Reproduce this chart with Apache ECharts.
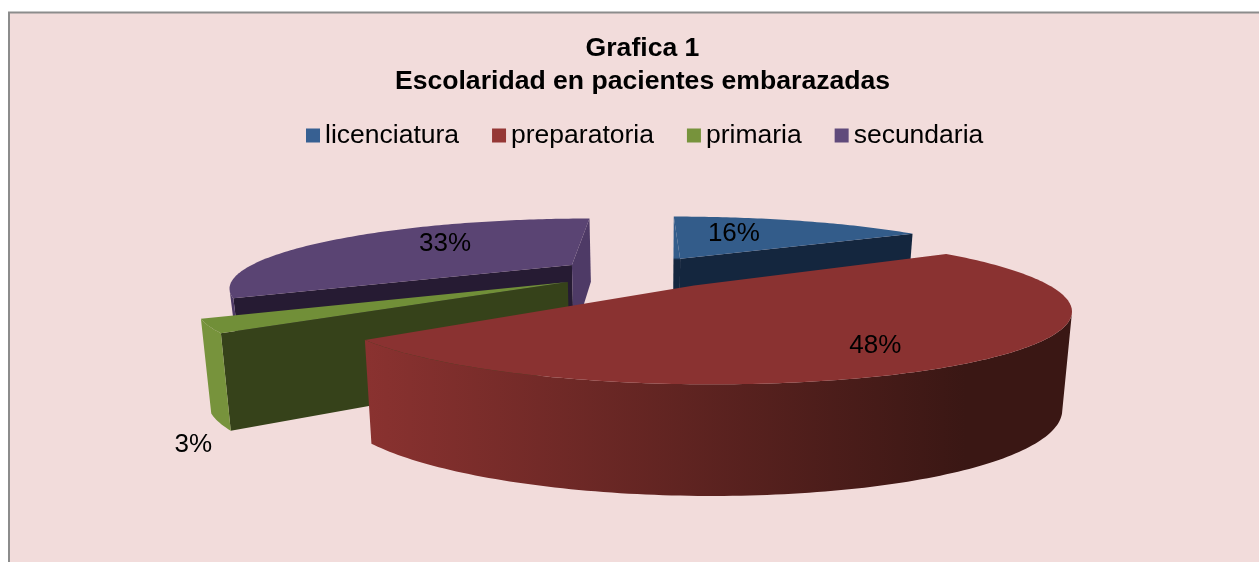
<!DOCTYPE html>
<html>
<head>
<meta charset="utf-8">
<style>
  html, body { margin: 0; padding: 0; background: #fff; }
  #chart { width: 1259px; height: 562px; }
</style>
<script src="https://cdn.jsdelivr.net/npm/echarts@6/dist/echarts.min.js"></script>
</head>
<body>
<div id="chart"></div>
<script>
const categories = ['licenciatura', 'preparatoria', 'primaria', 'secundaria'];
const percentValues = [16, 48, 3, 33];
const legendColors = ['#376092', '#953735', '#77933c', '#604a7b'];

// look of each slice: explosion offset (in radii), radius/height tweaks, face colours, label placement
const sliceLook = [
    { dx: 0.097, dy: 0.22, kx: 1.03, ky: 0.95, hk: 1, z: 2, top: '#335c8a', endFace: '#14263e', arc: ['#14263e', '#14263e'], labelR: 0.5, nudge: [-12, -4], labelLow: false },
    { dx: 0.125, dy: -0.2, kx: 1.01, ky: 0.95, hk: 1.05, z: 4, top: '#8a3231', startFace: '#5a2422', endFace: '#5a2422', arc: ['#8a3230', '#3a1714'], labelR: 0.72, nudge: [-11, 12], labelLow: false },
    { dx: -0.237, dy: -0.15, kx: 1, ky: 0.93, hk: 1, z: 3, top: '#718f38', startFace: '#36421a', endFace: '#36421a', arc: ['#77933c', '#77933c'], labelR: 1.12, nudge: [26, 15], labelLow: true },
    { dx: -0.244, dy: 0.115, kx: 1, ky: 1, hk: 0.85, z: 1, top: '#5a4473', startFace: '#261b33', endFace: '#4e3a66', arc: ['#4e3a66', '#4e3a66'], labelR: 0.5, nudge: [-4, -7], labelLow: false }
];

// pie camera
const cam = { cx: 650, cy: 272, rx: 331, ry: 64, persp: 0.3, height: 86, baseScale: 0.977 };

function project(look, x, y, low) {
    const X = look.dx + x * look.kx;
    const Y = look.dy + y * look.ky;
    const s = 1 / (1 + cam.persp * Y);
    let px = cam.cx + cam.rx * X * s;
    let py = cam.cy - cam.ry * Y * s;
    if (low) {
        px = cam.cx + (px - cam.cx) * cam.baseScale;
        py += cam.height * look.hk * Math.sqrt(s);
    }
    return [px, py];
}

function rim(look, deg, low, r) {
    const a = deg * Math.PI / 180;
    const k = r === undefined ? 1 : r;
    return project(look, Math.sin(a) * k, Math.cos(a) * k, low);
}

function facesViewer(pts) {
    let area = 0;
    for (let i = 0; i < pts.length; i++) {
        const p = pts[i], q = pts[(i + 1) % pts.length];
        area += p[0] * q[1] - q[0] * p[1];
    }
    return area < 0;
}

function poly(points, fill) {
    return { type: 'polygon', shape: { points: points }, style: { fill: fill, stroke: null } };
}

const total = percentValues.reduce((a, b) => a + b, 0);

function makeRender(idx) {
    const look = sliceLook[idx];
    let before = 0;
    for (let i = 0; i < idx; i++) { before += percentValues[i]; }

    return function (params, api) {
        const value = api.value(0);
        const a0 = before / total * 360;
        const a1 = (before + value) / total * 360;
        const children = [];

        // cut faces
        const apexT = project(look, 0, 0, false), apexB = project(look, 0, 0, true);
        const startQuad = [apexT, rim(look, a0, false), rim(look, a0, true), apexB];
        const endQuad = [rim(look, a1, false), apexT, apexB, rim(look, a1, true)];
        // the sliver left of the blue slice is lit above the apex and dark below it
        const startFill = look.startFace || new echarts.graphic.LinearGradient(0, apexT[1] - 1, 0, apexT[1] + 1, [
            { offset: 0, color: look.top }, { offset: 1, color: look.endFace }
        ], true);
        if (facesViewer(startQuad)) { children.push(poly(startQuad, startFill)); }
        if (facesViewer(endQuad)) { children.push(poly(endQuad, look.endFace)); }

        // outer wall: keep the stretch of the arc that faces the viewer
        const step = 1;
        const upper = [], lower = [];
        for (let a = a0; a < a1; a += step) {
            const b = Math.min(a + step, a1);
            const quad = [rim(look, a, false), rim(look, b, false), rim(look, b, true), rim(look, a, true)];
            if (!facesViewer(quad)) { continue; }
            if (!upper.length) { upper.push(quad[0]); lower.push(quad[3]); }
            upper.push(quad[1]);
            lower.push(quad[2]);
        }
        if (upper.length) {
            const wallFill = new echarts.graphic.LinearGradient(365, 0, 965, 0, [
                { offset: 0, color: look.arc[0] }, { offset: 1, color: look.arc[1] }
            ], true);
            children.push(poly(upper.concat(lower.reverse()), wallFill));
        }

        // top face
        const top = [apexT];
        for (let a = a0; a < a1; a += step) { top.push(rim(look, a, false)); }
        top.push(rim(look, a1, false));
        children.push(poly(top, look.top));

        // percentage label
        const pos = rim(look, (a0 + a1) / 2, look.labelLow, look.labelR);
        children.push({
            type: 'text',
            x: pos[0] + look.nudge[0],
            y: pos[1] + look.nudge[1],
            style: {
                text: Math.round(value / total * 100) + '%',
                font: '26px "Liberation Sans", Arial, sans-serif',
                fill: '#000',
                align: 'center',
                verticalAlign: 'middle'
            }
        });
        return { type: 'group', children: children };
    };
}

const series = categories.map((name, i) => ({
    type: 'custom',
    name: name,
    coordinateSystem: 'none',
    z: sliceLook[i].z + 2,
    silent: true,
    itemStyle: { color: legendColors[i] },
    renderItem: makeRender(i),
    data: [[percentValues[i]]]
}));

const chart = echarts.init(document.getElementById('chart'), null, { renderer: 'canvas' });
chart.setOption({
    animation: false,
    textStyle: { fontFamily: '"Liberation Sans", Arial, sans-serif' },
    graphic: [{
        type: 'rect', z: -10, silent: true,
        shape: { x: 9, y: 12.5, width: 1300, height: 600 },
        style: { fill: '#f2dcdb', stroke: '#8c8c8c', lineWidth: 2 }
    }],
    title: {
        text: 'Grafica 1\nEscolaridad en pacientes embarazadas',
        left: 637.5,
        top: 27,
        textAlign: 'center',
        textStyle: { fontSize: 26.6, fontWeight: 'bold', color: '#000', lineHeight: 33, fontFamily: '"Liberation Sans", Arial, sans-serif' }
    },
    legend: {
        left: 301,
        top: 117,
        icon: 'rect',
        itemWidth: 14,
        itemHeight: 14,
        itemGap: 33,
        selectedMode: false,
        data: categories,
        textStyle: { fontSize: 26.5, color: '#000', fontFamily: '"Liberation Sans", Arial, sans-serif' }
    },
    series: series
});
</script>
</body>
</html>
